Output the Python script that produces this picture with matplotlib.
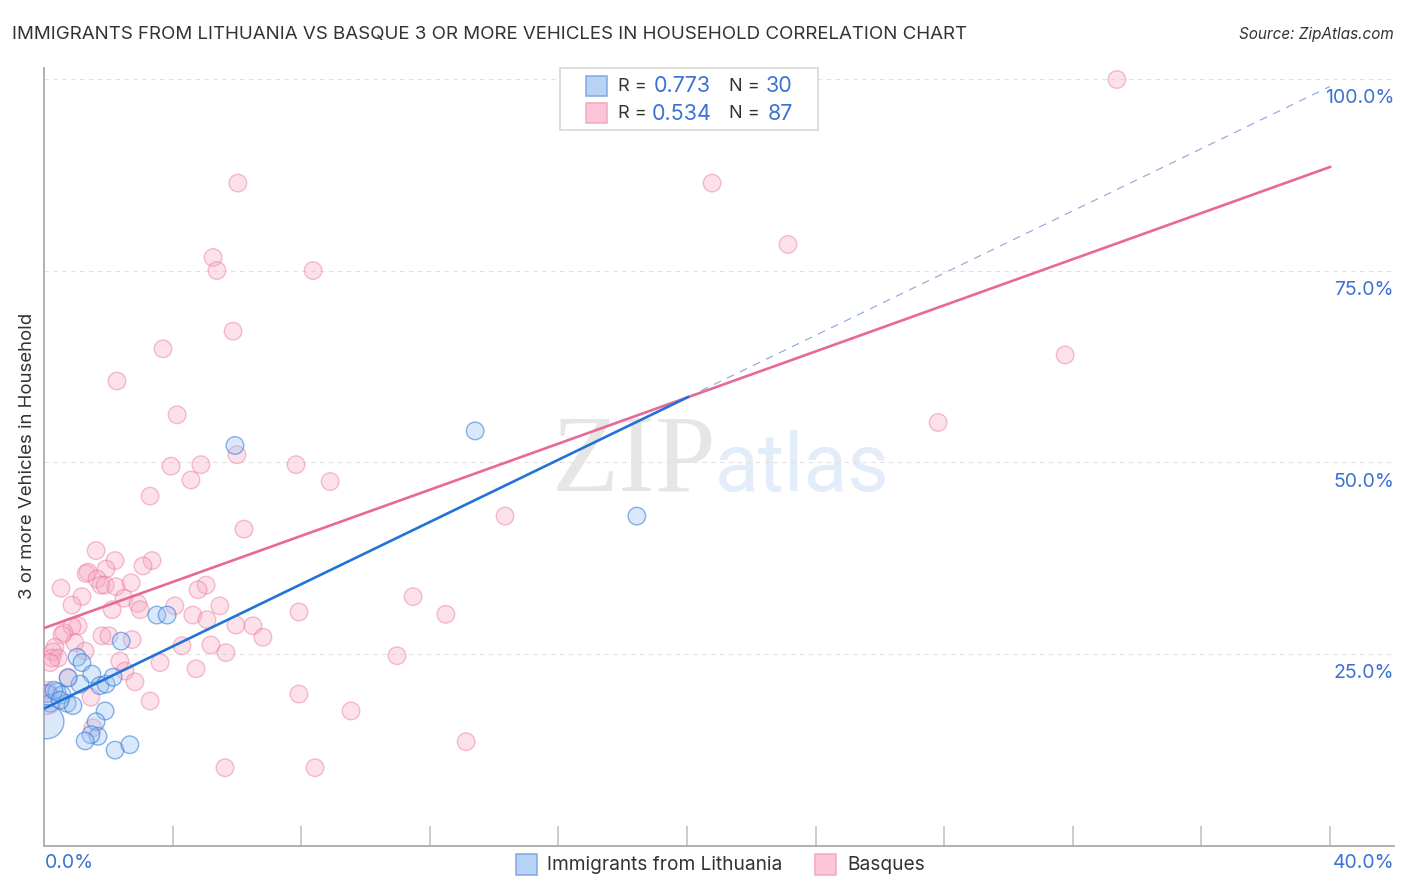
import numpy as np
import matplotlib
matplotlib.use("Agg")
import matplotlib.pyplot as plt
from matplotlib.patches import Rectangle

plt.rcParams['font.family'] = ['Inter', 'DejaVu Sans']

# values, percent
blue_x = [3.51, 3.83, 2.40, 1.03, 1.18, 1.49, 1.12, 0.75, 1.74, 1.93,
          2.15, 1.90, 1.62, 1.68, 1.46, 1.28, 2.21, 2.67, 5.94, 13.41,
          18.44, 0.12, 0.19, 0.40, 0.56, 0.72, 0.90, 0.31, 0.50, 0.09]
blue_y = [30.1, 30.1, 26.7, 24.6, 23.9, 22.4, 21.1, 21.9, 20.9, 21.1,
          22.0, 17.6, 16.2, 14.3, 14.5, 13.7, 12.5, 13.2, 52.2, 54.1,
          43.0, 19.9, 18.6, 20.1, 19.7, 18.6, 18.3, 20.3, 19.0, 16.2]

pink_x = [33.37, 6.03, 20.78, 23.14, 5.26, 5.38, 8.37, 5.88, 31.76, 3.70,
          2.27, 4.14, 27.81, 6.00, 3.95, 4.88, 7.84, 4.57, 8.90, 3.30,
          14.34, 6.22, 1.62, 2.21, 3.36, 3.08, 1.93, 1.37, 1.31, 0.53,
          1.65, 1.77, 1.90, 2.24, 2.71, 5.04, 4.79, 1.18, 0.87, 2.49,
          2.92, 2.99, 2.12, 4.07, 5.47, 4.63, 5.07, 7.93, 5.97, 6.50,
          6.81, 1.06, 0.87, 0.62, 0.56, 1.80, 2.02, 2.74, 0.34, 0.28,
          0.96, 1.28, 0.25, 0.44, 0.19, 4.29, 5.19, 5.66, 2.36, 3.61,
          4.73, 2.52, 2.83, 0.75, 1.46, 3.30, 7.93, 0.12, 1.52, 5.63,
          8.43, 11.48, 12.50, 10.98, 9.55, 13.13, 0.09]
pink_y = [99.9, 86.4, 86.4, 78.4, 76.7, 75.0, 75.0, 67.1, 64.0, 64.8,
          60.6, 56.2, 55.2, 51.0, 49.5, 49.7, 49.7, 47.7, 47.5, 45.6,
          43.0, 41.3, 38.5, 37.2, 37.2, 36.5, 36.1, 35.7, 35.5, 33.6,
          34.8, 34.0, 34.0, 33.8, 34.3, 34.0, 33.4, 32.5, 31.4, 32.3,
          31.6, 30.8, 30.8, 31.3, 31.3, 30.1, 29.5, 30.5, 28.8, 28.7,
          27.2, 28.7, 28.6, 27.8, 27.5, 27.4, 27.4, 26.9, 25.9, 25.3,
          26.5, 25.4, 24.5, 24.5, 23.9, 26.1, 26.2, 25.2, 24.1, 23.9,
          23.1, 22.8, 21.4, 22.0, 19.4, 18.9, 19.8, 20.3, 15.4, 10.2,
          10.2, 32.5, 30.2, 24.8, 17.6, 13.6, 19.0]

# regression lines, value at x=0 and x=40
blue_fit = [17.9, 99.0]
pink_fit = [28.4, 88.5]
blue_solid_end = 20.03

y_ticks = [25, 50, 75, 100]
y_tick_labels = ["25.0%", "50.0%", "75.0%", "100.0%"]
x_ticks = [4, 8, 12, 16, 20, 24, 28, 32, 36, 40]
legend_names = ["Immigrants from Lithuania", "Basques"]

BLUE = "#2272d8"
PINK = "#e8689a"
TEXT_BLUE = "#3b72d4"
DARK = "#333333"

W, H = 1406, 892
fig = plt.figure(figsize=(W / 100, H / 100), dpi=100, facecolor="white")
ax = fig.add_axes([44 / W, (H - 846) / H, 1350 / W, 778 / H])
ax.patch.set_visible(False)
ax.set_xlim(0, 41.99)
ax.set_ylim(0, 101.4)

# pixel position to figure fraction, for everything outside the scales
def fx(px):
    return px / W

def fy(py):
    return 1 - py / H

# grid and frame
for v in y_ticks:
    ax.axhline(v, color="#e2e2e2", lw=0.8, ls=(0, (4, 4)), zorder=1)
for s in ["top", "right"]:
    ax.spines[s].set_visible(False)
for s in ["left", "bottom"]:
    ax.spines[s].set_color("#aaaaaa")
    ax.spines[s].set_linewidth(1.3)
ax.set_yticks([])
ax.set_xticks(x_ticks)
ax.set_xticklabels([])
ax.tick_params(axis="x", direction="in", length=14.5, width=1.3, color="#c8c8c8")

# watermark
fig.text(fx(634), fy(491), "ZIP", family=["Liberation Serif"], fontsize=79,
         color="#e6e6e6", ha="center", va="baseline", zorder=-1)
fig.text(fx(802), fy(491), "atlas", family=["Roboto"], fontsize=58,
         color="#e3ecf9", ha="center", va="baseline", zorder=-1)

# points
blue_sizes = np.full(len(blue_x), 160.0)
blue_sizes[-1] = 600
pink_sizes = np.full(len(pink_x), 160.0)
pink_sizes[-1] = 420
ax.scatter(pink_x, pink_y, s=pink_sizes, facecolor=(0.97, 0.65, 0.76, 0.33),
           edgecolor=(0.92, 0.45, 0.60, 0.45), linewidth=1.0, zorder=3)
ax.scatter(blue_x, blue_y, s=blue_sizes, facecolor=(0.58, 0.75, 0.95, 0.34),
           edgecolor=(0.17, 0.47, 0.85, 0.55), linewidth=1.0, zorder=4)

# fits
blue_slope = (blue_fit[1] - blue_fit[0]) / 40
ax.plot([blue_solid_end, 40], [blue_fit[0] + blue_slope * blue_solid_end, blue_fit[1]],
        color="#8aa6da", lw=0.8, ls=(0, (7, 6)), zorder=5)
ax.plot([0, 40], pink_fit, color=PINK, lw=1.9, zorder=6)
ax.plot([0, blue_solid_end], [blue_fit[0], blue_fit[0] + blue_slope * blue_solid_end],
        color=BLUE, lw=1.9, zorder=7)

# axis labels, written inside the right edge
for v, lab in zip(y_ticks, y_tick_labels):
    ax.text(1, v - 2.5, lab, transform=ax.get_yaxis_transform(), ha="right", va="center",
            fontsize=14, color=TEXT_BLUE, zorder=8)
fig.text(fx(45), fy(863.5), "0.0%", fontsize=14, color=TEXT_BLUE, ha="left", va="center")
fig.text(fx(1394), fy(863.5), "40.0%", fontsize=14, color=TEXT_BLUE, ha="right", va="center")
fig.text(fx(27.5), fy(456), "3 or more Vehicles in Household", fontsize=13.4, color=DARK,
         rotation=90, ha="center", va="center")

# title
fig.text(fx(12), fy(34), "IMMIGRANTS FROM LITHUANIA VS BASQUE 3 OR MORE VEHICLES IN HOUSEHOLD CORRELATION CHART",
         fontsize=13.5, color=DARK, ha="left", va="center")
fig.text(fx(1394), fy(34.5), "Source: ZipAtlas.com", fontsize=11, color=DARK, style="italic",
         ha="right", va="center")

# stats box
fig.add_artist(Rectangle((fx(559.5), fy(130)), 258 / W, 62 / H, transform=fig.transFigure,
                         facecolor="white", edgecolor="#d8d8d8", lw=1.2, zorder=8))
swatches = [((586, 96), "#b8d2f5", "#7fa8e4"), ((586, 123), "#fcc6d8", "#f4a8c0")]
for (px, py), fc, ec in swatches:
    fig.add_artist(Rectangle((fx(px), fy(py)), 21 / W, 20 / H, transform=fig.transFigure,
                             facecolor=fc, edgecolor=ec, lw=1.1, zorder=9))
stats = [(86.5, "0.773", 654, "30", 766), (113.5, "0.534", 652, "87", 768)]
for py, r_val, r_px, n_val, n_px in stats:
    fig.text(fx(618), fy(py), "R =", fontsize=13, color=DARK, va="center", zorder=10)
    fig.text(fx(r_px), fy(py), r_val, fontsize=15.5, color=TEXT_BLUE, va="center", zorder=10)
    fig.text(fx(729), fy(py), "N =", fontsize=13, color=DARK, va="center", zorder=10)
    fig.text(fx(n_px), fy(py), n_val, fontsize=15.5, color=TEXT_BLUE, va="center", zorder=10)

# bottom legend
bottom = [(516, 547, "#b8d2f5", "#7fa8e4"), (815, 847, "#fcc6d8", "#f4a8c0")]
for name, (bx, tx, fc, ec) in zip(legend_names, bottom):
    fig.add_artist(Rectangle((fx(bx), fy(875)), 21 / W, 21 / H, transform=fig.transFigure,
                             facecolor=fc, edgecolor=ec, lw=1.1))
    fig.text(fx(tx), fy(864.5), name, fontsize=13.75, color=DARK, va="center")

fig.savefig("out.png", dpi=100)
